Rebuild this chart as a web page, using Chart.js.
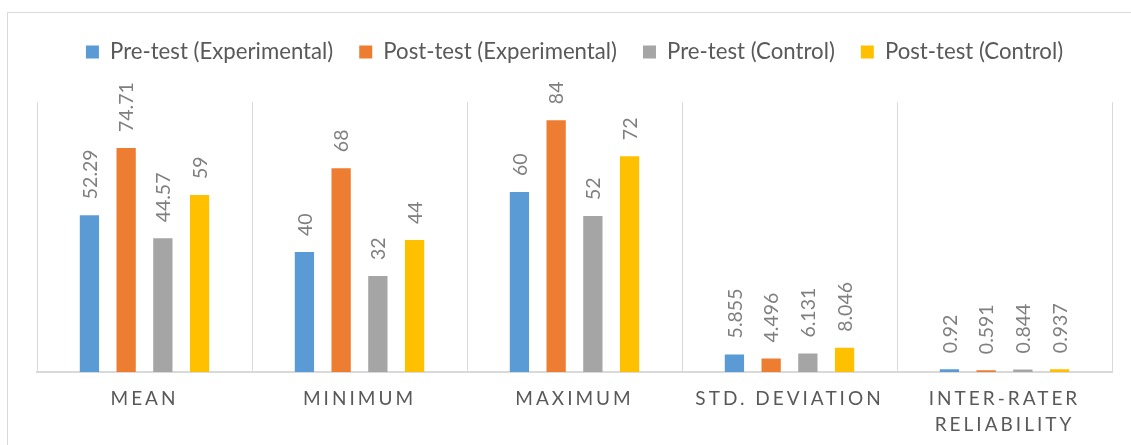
<!DOCTYPE html>
<html>
<head>
<meta charset="utf-8">
<script src="https://cdn.jsdelivr.net/npm/chart.js@4.4.0/dist/chart.umd.min.js"></script>
<style>
  html, body { margin: 0; padding: 0; background: #ffffff; }
  #wrap { position: relative; width: 1131px; height: 445px; }
</style>
</head>
<body>
<div id="wrap"><canvas id="c"></canvas></div>
<script>
const categories = ["MEAN", "MINIMUM", "MAXIMUM", "STD. DEVIATION", ["INTER-RATER", "RELIABILITY"]];
const seriesNames = ["Pre-test (Experimental)", "Post-test (Experimental)", "Pre-test (Control)", "Post-test (Control)"];
const preExperimental  = [52.29, 40, 60, 5.855, 0.92];
const postExperimental = [74.71, 68, 84, 4.496, 0.591];
const preControl       = [44.57, 32, 52, 6.131, 0.844];
const postControl      = [59, 44, 72, 8.046, 0.937];
const seriesColors = ["#5B9BD5", "#ED7D31", "#A5A5A5", "#FFC000"];
const yMin = 0, yMax = 90;

const FONT = "Lato, 'Open Sans', sans-serif";

const frame = {
  id: 'frame',
  beforeInit(chart) {
    const lg = chart.legend;
    if (lg) {
      const fit = lg.fit;
      lg.fit = function () { fit.call(this); this.height += 29; };
    }
  },
  beforeDraw(chart) {
    const ctx = chart.ctx;
    ctx.save();
    ctx.strokeStyle = '#d9d9d9';
    ctx.lineWidth = 1;
    ctx.strokeRect(7.5, 12.5, 1135, 445);
    ctx.restore();
  }
};

const valueLabels = {
  id: 'valueLabels',
  afterDatasetsDraw(chart) {
    const ctx = chart.ctx;
    ctx.save();
    ctx.fillStyle = '#7f7f7f';
    ctx.font = "19.5px " + FONT;
    ctx.textAlign = 'left';
    ctx.textBaseline = 'middle';
    chart.data.datasets.forEach((ds, di) => {
      const meta = chart.getDatasetMeta(di);
      meta.data.forEach((bar, i) => {
        ctx.save();
        ctx.translate(bar.x + 1, bar.y - 16);
        ctx.rotate(-Math.PI / 2);
        ctx.fillText(String(ds.data[i]), 0, 0);
        ctx.restore();
      });
    });
    ctx.restore();
    // letter spacing for category labels (tick layer drawn after datasets)
    chart.ctx.letterSpacing = '3px';
  },
  afterDraw(chart) {
    chart.ctx.letterSpacing = '0px';
  }
};

const allSeries = [preExperimental, postExperimental, preControl, postControl];

new Chart(document.getElementById('c'), {
  type: 'bar',
  data: {
    labels: categories,
    datasets: allSeries.map((d, i) => ({
      label: seriesNames[i],
      data: d,
      backgroundColor: seriesColors[i],
      borderWidth: 0,
      categoryPercentage: 0.683,
      barPercentage: 0.525
    }))
  },
  options: {
    responsive: true,
    maintainAspectRatio: false,
    animation: false,
    layout: { padding: { top: 15, left: 37, right: 19, bottom: 7 } },
    plugins: {
      legend: {
        position: 'top',
        labels: {
          boxWidth: 13,
          boxHeight: 13,
          padding: 26,
          color: '#595959',
          font: { family: FONT, size: 22.2 }
        }
      },
      tooltip: { enabled: false }
    },
    scales: {
      x: {
        grid: { display: true, color: '#d9d9d9', lineWidth: 1, drawTicks: false, offset: true },
        border: { display: true, color: '#d9d9d9', width: 2 },
        ticks: {
          z: 1,
          color: '#595959',
          padding: 14,
          maxRotation: 0,
          autoSkip: false,
          font: { family: FONT, size: 19, lineHeight: 1.37 }
        },
        afterFit(scale) { scale.height -= 14; }
      },
      y: {
        display: false,
        min: yMin,
        max: yMax
      }
    }
  },
  plugins: [frame, valueLabels]
});
</script>
</body>
</html>
